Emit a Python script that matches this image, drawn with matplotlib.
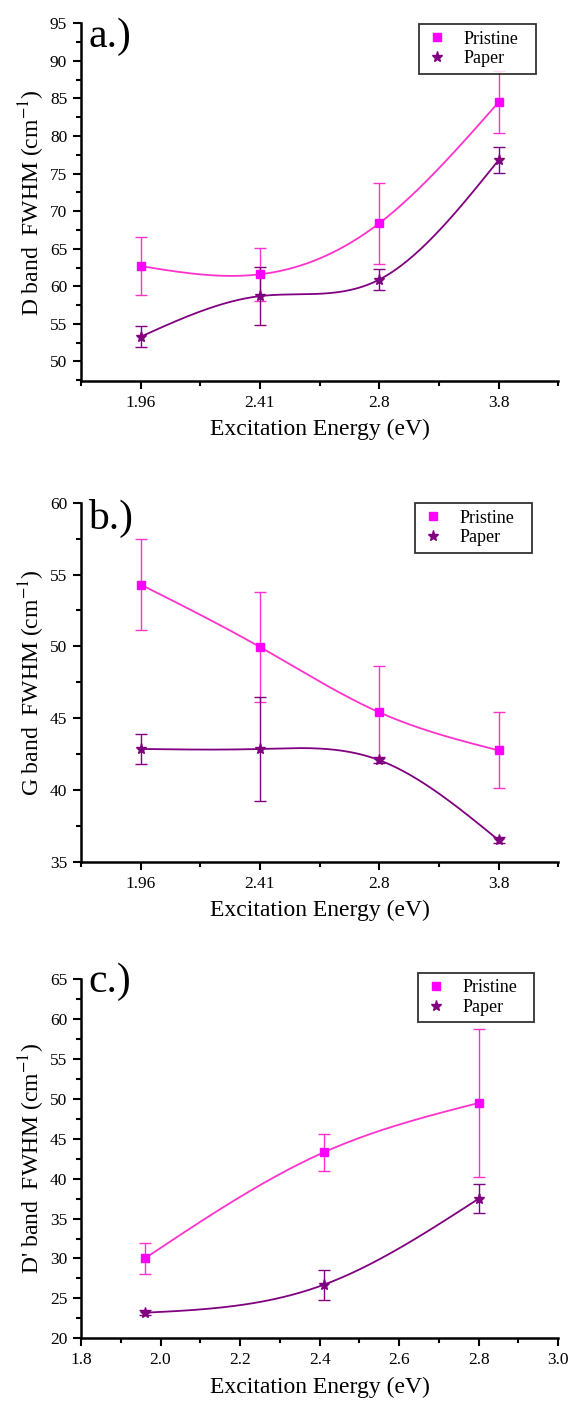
import numpy as np
import matplotlib
matplotlib.use("Agg")
import matplotlib.pyplot as plt
from matplotlib.ticker import MultipleLocator, FixedLocator, FormatStrFormatter

plt.rcParams['font.family'] = ['Liberation Serif', 'DejaVu Serif']
plt.rcParams['mathtext.fontset'] = 'stix'

# excitation energies (eV)
energies_ab = ['1.96', '2.41', '2.8', '3.8']
energies_c = [1.96, 2.41, 2.8]

# D band FWHM
d_pristine = [62.7, 61.6, 68.4, 84.5]
d_pristine_err = [3.8, 3.5, 5.4, 4.1]
d_paper = [53.3, 58.7, 60.9, 76.8]
d_paper_err = [1.4, 3.85, 1.35, 1.7]

# G band FWHM
g_pristine = [54.3, 49.95, 45.4, 42.75]
g_pristine_err = [3.15, 3.85, 3.2, 2.65]
g_paper = [42.85, 42.85, 42.07, 36.5]
g_paper_err = [1.05, 3.65, 0.2, 0.2]

# D' band FWHM
dp_pristine = [30.0, 43.3, 49.5]
dp_pristine_err = [1.95, 2.35, 9.25]
dp_paper = [23.2, 26.7, 37.5]
dp_paper_err = [0.3, 1.85, 1.8]

PINK = '#FF00FF'
PINK_LINE = '#FF33CC'
PURPLE = '#800080'


def natural_spline(x, y, xs):
    x = np.asarray(x, float)
    y = np.asarray(y, float)
    n = len(x)
    h = np.diff(x)
    A = np.zeros((n, n))
    b = np.zeros(n)
    A[0, 0] = A[-1, -1] = 1.0
    for i in range(1, n - 1):
        A[i, i - 1] = h[i - 1]
        A[i, i] = 2 * (h[i - 1] + h[i])
        A[i, i + 1] = h[i]
        b[i] = 6 * ((y[i + 1] - y[i]) / h[i] - (y[i] - y[i - 1]) / h[i - 1])
    M = np.linalg.solve(A, b)
    k = np.clip(np.searchsorted(x, xs) - 1, 0, n - 2)
    t1 = x[k + 1] - xs
    t0 = xs - x[k]
    hk = h[k]
    return (M[k] * t1 ** 3 / (6 * hk) + M[k + 1] * t0 ** 3 / (6 * hk)
            + (y[k] / hk - M[k] * hk / 6) * t1
            + (y[k + 1] / hk - M[k + 1] * hk / 6) * t0)


def draw_series(ax, x, y, err, color, line_color, marker, ms, label):
    xs = np.linspace(x[0], x[-1], 300)
    ax.plot(xs, natural_spline(x, y, xs), color=line_color, lw=1.3, zorder=2)
    ax.errorbar(x, y, yerr=err, fmt='none', ecolor=line_color, elinewidth=1.0,
                capsize=4, capthick=1.0, zorder=3)
    ax.plot(x, y, ls='none', marker=marker, color=color, ms=ms, zorder=4,
            label=label)


def style_axes(ax, ylabel, panel, label_y):
    for side in ['top', 'right']:
        ax.spines[side].set_visible(False)
    for side in ['left', 'bottom']:
        ax.spines[side].set_linewidth(1.8)
    ax.tick_params(which='major', direction='out', length=6, width=1.5,
                   labelsize=12.5, pad=4)
    ax.tick_params(which='minor', direction='out', length=3.5, width=1.5)
    ax.set_xlabel('Excitation Energy (eV)', fontsize=17, labelpad=6)
    ax.set_ylabel(ylabel, fontsize=17, labelpad=2)
    ax.text(0.015, label_y, panel, transform=ax.transAxes, fontsize=30,
            va='baseline', ha='left')


def add_legend(ax, x0, y0, w, h):
    leg = ax.legend(loc='upper left', bbox_to_anchor=(x0, y0, w, h),
                    mode='expand', fontsize=13, frameon=True, fancybox=False,
                    borderaxespad=0, handletextpad=0.8, labelspacing=0.15,
                    handlelength=1.3, borderpad=0.35)
    leg.get_frame().set_edgecolor('black')
    leg.get_frame().set_linewidth(1.3)


fig = plt.figure(figsize=(5.75, 14.05), dpi=100)
ax_a = fig.add_axes([0.1409, 0.7288, 0.830, 0.2546])
ax_b = fig.add_axes([0.1409, 0.3867, 0.830, 0.2555])
ax_c = fig.add_axes([0.1409, 0.0475, 0.830, 0.2555])

idx = np.arange(1, len(energies_ab) + 1)

# a.) D band
draw_series(ax_a, idx, d_pristine, d_pristine_err, PINK, PINK_LINE, 's', 5.5, 'Pristine')
draw_series(ax_a, idx, d_paper, d_paper_err, PURPLE, PURPLE, '*', 8, 'Paper')
ax_a.set_xlim(0.5, 4.5)
ax_a.set_ylim(47.4, 95)
ax_a.set_xticks(idx)
ax_a.set_xticklabels(energies_ab)
ax_a.xaxis.set_minor_locator(FixedLocator([0.5, 1.5, 2.5, 3.5, 4.5]))
ax_a.yaxis.set_major_locator(MultipleLocator(5))
ax_a.yaxis.set_minor_locator(MultipleLocator(2.5))
style_axes(ax_a, 'D band  FWHM (cm$^{-1}$)', 'a.)', 0.934)
add_legend(ax_a, 0.709, 0.874, 0.244, 0.123)

# b.) G band
draw_series(ax_b, idx, g_pristine, g_pristine_err, PINK, PINK_LINE, 's', 5.5, 'Pristine')
draw_series(ax_b, idx, g_paper, g_paper_err, PURPLE, PURPLE, '*', 8, 'Paper')
ax_b.set_xlim(0.5, 4.5)
ax_b.set_ylim(35, 60)
ax_b.set_xticks(idx)
ax_b.set_xticklabels(energies_ab)
ax_b.xaxis.set_minor_locator(FixedLocator([0.5, 1.5, 2.5, 3.5, 4.5]))
ax_b.yaxis.set_major_locator(MultipleLocator(5))
ax_b.yaxis.set_minor_locator(MultipleLocator(2.5))
style_axes(ax_b, 'G band  FWHM (cm$^{-1}$)', 'b.)', 0.926)
add_legend(ax_b, 0.700, 0.861, 0.244, 0.137)

# c.) D' band
draw_series(ax_c, energies_c, dp_pristine, dp_pristine_err, PINK, PINK_LINE, 's', 5.5, 'Pristine')
draw_series(ax_c, energies_c, dp_paper, dp_paper_err, PURPLE, PURPLE, '*', 8, 'Paper')
ax_c.set_xlim(1.8, 3.0)
ax_c.set_ylim(20, 65)
ax_c.xaxis.set_major_locator(MultipleLocator(0.2))
ax_c.xaxis.set_minor_locator(MultipleLocator(0.1))
ax_c.xaxis.set_major_formatter(FormatStrFormatter('%.1f'))
ax_c.yaxis.set_major_locator(MultipleLocator(5))
ax_c.yaxis.set_minor_locator(MultipleLocator(2.5))
style_axes(ax_c, "D' band  FWHM (cm$^{-1}$)", 'c.)', 0.965)
add_legend(ax_c, 0.707, 0.887, 0.243, 0.131)

fig.savefig('out.png', dpi=100)
